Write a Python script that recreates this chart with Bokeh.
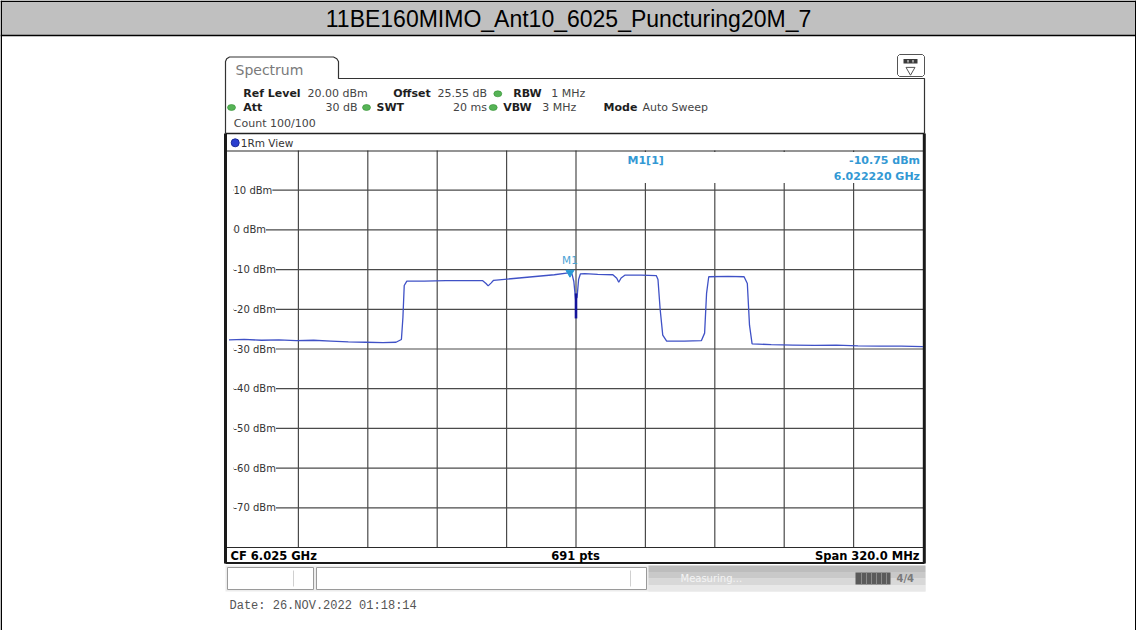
from bokeh.plotting import figure
from bokeh.models import Range1d, ColumnDataSource, LabelSet
from bokeh.core.properties import value
from bokeh.embed import file_html
from bokeh.resources import INLINE

# ---------------- data ----------------
TITLE = "11BE160MIMO_Ant10_6025_Puncturing20M_7"
F_START, F_END = 5.865, 6.185          # GHz (CF 6.025, span 320 MHz)
REF_TOP, REF_BOT = 20.0, -80.0         # dBm
N_POINTS = 691

trace_freq_ghz = [
    5.8650, 5.8720, 5.8800, 5.8880, 5.8960, 5.9040, 5.9120, 5.9200, 5.9280, 5.9360,
    5.9420, 5.9445, 5.9452, 5.9458, 5.9470, 5.9550, 5.9650, 5.9750, 5.9820, 5.9835,
    5.9845, 5.9858, 5.9870, 5.9950, 6.0050, 6.0150, 6.0215, 6.0232, 6.0240, 6.0248,
    6.0255, 6.0262, 6.0270, 6.0290, 6.0350, 6.0420, 6.0438, 6.0447, 6.0458, 6.0475,
    6.0550, 6.0620, 6.0628, 6.0638, 6.0650, 6.0668, 6.0750, 6.0828, 6.0843, 6.0852,
    6.0862, 6.0950, 6.1025, 6.1040, 6.1050, 6.1062, 6.1150, 6.1250, 6.1350, 6.1450,
    6.1550, 6.1650, 6.1750, 6.1850]
trace_level_dbm = [
    -27.7, -27.6, -27.8, -27.7, -27.9, -27.8, -28.0, -28.2, -28.3, -28.4,
    -28.3, -27.6, -22.0, -14.0, -12.9, -12.9, -12.8, -12.8, -12.8, -13.5,
    -14.1, -13.4, -12.7, -12.3, -11.8, -11.3, -10.8, -11.2, -13.0, -17.5,
    -17.0, -12.5, -11.1, -11.0, -11.2, -11.3, -12.2, -13.2, -12.1, -11.4,
    -11.4, -11.5, -12.5, -20.0, -26.5, -28.0, -28.0, -27.9, -26.0, -16.0,
    -11.8, -11.7, -11.8, -13.5, -24.0, -28.7, -28.9, -29.0, -29.1, -29.0,
    -29.2, -29.3, -29.3, -29.4]

dip_freq_ghz = [6.0250, 6.0250]
dip_level_dbm = [-16.0, -22.3]

marker_freq_ghz = 6.022220
marker_level_dbm = -10.75

y_ticks_dbm = [10, 0, -10, -20, -30, -40, -50, -60, -70]
y_tick_labels = ["10 dBm", "0 dBm", "-10 dBm", "-20 dBm", "-30 dBm",
                 "-40 dBm", "-50 dBm", "-60 dBm", "-70 dBm"]
x_grid_ghz = [5.897, 5.929, 5.961, 5.993, 6.025, 6.057, 6.089, 6.121, 6.153]

# ---------------- layout (reference pixel positions) ----------------
W, H = 1136, 630
OX, OY = 0, 0
FL, FR, FT, FB = 228.5, 922.5, 150.0, 547.0   # spectrum frame in reference px


def X(rx):
    return rx - OX


def Y(ry):
    return ry - OY


pxf = (FR - FL) / (F_END - F_START)
pxd = (FB - FT) / (REF_TOP - REF_BOT)
f_lo = F_START - (FL - OX) / pxf
f_hi = F_END + (OX + W - FR) / pxf
d_hi = REF_TOP + (FT - OY) / pxd
d_lo = REF_BOT - (OY + H - FB) / pxd

p = figure(width=W, height=H, x_range=Range1d(0, W), y_range=Range1d(H, 0),
           x_axis_type=None, y_axis_type=None, toolbar_location=None,
           output_backend="svg", min_border=0, outline_line_color=None,
           background_fill_color="white", border_fill_color="white")
p.extra_x_ranges = {"f": Range1d(f_lo, f_hi)}
p.extra_y_ranges = {"db": Range1d(d_lo, d_hi)}

SANS = value("DejaVu Sans")


def txt(items, size, bold=False, color="#222222", align="left",
        font="DejaVu Sans", baseline="middle"):
    p.text(x=[X(a) for _, a, _ in items], y=[Y(b) for _, _, b in items],
           text=[t for t, _, _ in items], text_font=value(font),
           text_font_size=value(size),
           text_font_style="bold" if bold else "normal",
           text_color=color, text_align=align, text_baseline=baseline)


# ---------------- title bar + outer table border ----------------
p.quad(left=[X(1)], right=[X(1135)], top=[Y(1)], bottom=[Y(35)],
       fill_color="#c0c0c0", line_color=None)
p.segment(x0=[X(0), X(0)], x1=[X(1136), X(1136)], y0=[Y(0.75), Y(35)], y1=[Y(0.75), Y(35)],
          line_color="black", line_width=1.5)
p.segment(x0=[X(0.75), X(1135.25)], x1=[X(0.75), X(1135.25)], y0=[Y(0)] * 2, y1=[Y(630)] * 2,
          line_color="black", line_width=1.5)
txt([(TITLE, 568, 18)], "23px", color="black", align="center", font="Liberation Sans")

# ---------------- analyzer window chrome ----------------
p.line(x=[X(v) for v in [225, 225, 226.2, 229, 333, 336.3, 338, 338, 924, 924]],
       y=[Y(v) for v in [133, 61, 58.2, 56.5, 56.5, 58.2, 61, 78, 78, 133]],
       line_color="#333333", line_width=1.2)
txt([("Spectrum", 235, 69)], "14px", color="#7a7a7a")

# top-right icon
p.line(x=[X(v) for v in [897, 897, 899, 922, 924, 924, 922, 899, 897]],
       y=[Y(v) for v in [74, 56, 54, 54, 56, 74, 76, 76, 74]],
       line_color="#555555", line_width=1)
p.quad(left=[X(903)], right=[X(917)], top=[Y(58.5)], bottom=[Y(63)],
       fill_color="#3a3a3a", line_color=None)
p.segment(x0=[X(907.5), X(912.5)], x1=[X(907.5), X(912.5)],
          y0=[Y(59.5)] * 2, y1=[Y(62)] * 2, line_color="white", line_width=1)
p.scatter(x=[X(910)], y=[Y(69.5)], marker="inverted_triangle", size=9,
          fill_color="white", line_color="#555555", line_width=1)

# header rows
txt([("Ref Level", 242.7, 93), ("Offset", 392.7, 93), ("RBW", 512.7, 93),
     ("Att", 242.7, 107), ("SWT", 376, 107), ("VBW", 502.7, 107), ("Mode", 603, 107)],
    "11px", bold=True, color="#1e1e1e")
txt([("20.00 dBm", 307, 93), ("25.55 dB", 437, 93), ("1 MHz", 550.7, 93),
     ("3 MHz", 541.7, 107), ("Auto Sweep", 642, 107), ("Count 100/100", 233.3, 123)],
    "11px", color="#444444")
txt([("30 dB", 357, 107), ("20 ms", 486.5, 107)], "11px", color="#444444", align="right")
p.ellipse(x=[X(497.3), X(231), X(366), X(492.7)], y=[Y(93.3), Y(107), Y(107), Y(107)],
          width=8, height=6, fill_color="#56b356", line_color="#2f8f2f", line_width=0.6)

# 1Rm View bar
p.segment(x0=[X(225)], x1=[X(924)], y0=[Y(133)], y1=[Y(133)], line_color="#222222", line_width=1.5)
p.circle(x=[X(234.7)], y=[Y(142.3)], radius=4, fill_color="#2a3fd0", line_color="#1a2a9a")
txt([("1Rm View", 240.3, 142)], "10.5px", color="#333333")

# ---------------- grid ----------------
p.segment(x0=x_grid_ghz, x1=x_grid_ghz, y0=[REF_BOT] * len(x_grid_ghz),
          y1=[REF_TOP] * len(x_grid_ghz), x_range_name="f", y_range_name="db",
          line_color="#4a4a4a", line_width=1.2)
p.segment(x0=[F_START] * len(y_ticks_dbm), x1=[F_END] * len(y_ticks_dbm),
          y0=y_ticks_dbm, y1=y_ticks_dbm, x_range_name="f", y_range_name="db",
          line_color="#4a4a4a", line_width=1.2)
p.quad(left=[X(FL)], right=[X(232.8)], top=[Y(151)], bottom=[Y(546)],
       fill_color="white", line_color=None)
p.quad(left=[X(598)], right=[X(921.5)], top=[Y(151.5)], bottom=[Y(182.5)],
       fill_color="white", line_color=None)

# frame lines
p.segment(x0=[X(226), X(226)], x1=[X(923), X(923)], y0=[Y(150.5), Y(547)],
          y1=[Y(150.5), Y(547)], line_color="#2a2a2a", line_width=1.2)
p.segment(x0=[X(225), X(923.8)], x1=[X(225), X(923.8)], y0=[Y(133), Y(133)],
          y1=[Y(563), Y(563)], line_color="#1a1a1a", line_width=3)
p.segment(x0=[X(225)], x1=[X(924)], y0=[Y(562.5)], y1=[Y(562.5)],
          line_color="#1a1a1a", line_width=2)

# ---------------- trace ----------------
p.line(x=trace_freq_ghz, y=trace_level_dbm, x_range_name="f", y_range_name="db",
       line_color="#3f51c6", line_width=1.3)
p.line(x=dip_freq_ghz, y=dip_level_dbm, x_range_name="f", y_range_name="db",
       line_color="#14149a", line_width=2.6)

# marker
p.scatter(x=[marker_freq_ghz], y=[marker_level_dbm], x_range_name="f", y_range_name="db",
          marker="inverted_triangle", size=8, fill_color="#2a9ad6", line_color="#2a9ad6")
p.text(x=[marker_freq_ghz], y=[marker_level_dbm], text=["M1"], x_range_name="f",
       y_range_name="db", y_offset=-13, text_align="center", text_baseline="middle",
       text_font=SANS, text_font_size=value("10.5px"), text_color="#4aa3d6")

# y tick labels
lab_src = ColumnDataSource(dict(f=[F_START] * len(y_ticks_dbm), db=y_ticks_dbm,
                                text=y_tick_labels))
p.add_layout(LabelSet(x="f", y="db", text="text", source=lab_src, x_range_name="f",
                      y_range_name="db", x_offset=4.5, text_align="left",
                      text_baseline="middle", text_font=SANS,
                      text_font_size=value("10px"), text_color="#333333",
                      background_fill_color="white"))

# marker readout
BLUE = "#3399d4"
txt([("M1[1]", 627, 160)], "11px", bold=True, color=BLUE)
txt([(f"{marker_level_dbm:.2f} dBm", 919.5, 160),
     (f"{marker_freq_ghz:.6f} GHz", 919.5, 176)], "11px", bold=True, color=BLUE, align="right")

# bottom info bar
cf = (F_START + F_END) / 2
span_mhz = (F_END - F_START) * 1000
txt([(f"CF {cf:.3f} GHz", 230, 555)], "11.5px", bold=True, color="black")
txt([(f"{N_POINTS} pts", 575, 555)], "11.5px", bold=True, color="black", align="center")
txt([(f"Span {span_mhz:.1f} MHz", 919, 555)], "11.5px", bold=True, color="black", align="right")

# status bar
p.quad(left=[X(225)], right=[X(925)], top=[Y(565)], bottom=[Y(591)],
       fill_color="#ececec", line_color=None)
p.quad(left=[X(648)] * 4, right=[X(925)] * 4,
       top=[Y(565), Y(571.5), Y(578), Y(584.5)], bottom=[Y(571.5), Y(578), Y(584.5), Y(591)],
       fill_color=["#bdbdbd", "#c9c9c9", "#d8d8d8", "#e8e8e8"], line_color=None)
p.quad(left=[X(227), X(316)], right=[X(313), X(646)], top=[Y(567)] * 2, bottom=[Y(589)] * 2,
       fill_color="white", line_color="#9a9a9a", line_width=1)
p.segment(x0=[X(293), X(630)], x1=[X(293), X(630)], y0=[Y(570)] * 2, y1=[Y(586)] * 2,
          line_color="#d0d0d0", line_width=1)
txt([("Measuring...", 680, 578)], "10px", color="#f4f4f4")
p.quad(left=[X(855)], right=[X(890)], top=[Y(572)], bottom=[Y(584)],
       fill_color="#5a5a5a", line_color=None)
p.segment(x0=[X(861), X(866), X(871), X(876), X(881), X(886)],
          x1=[X(861), X(866), X(871), X(876), X(881), X(886)],
          y0=[Y(572)] * 6, y1=[Y(584)] * 6, line_color="#8a8a8a", line_width=1)
txt([("4/4", 896, 578)], "10px", bold=True, color="#7a7a7a")

# date
txt([("Date: 26.NOV.2022  01:18:14", 229, 605)], "12px", color="#555555",
    font="Liberation Mono")

open("out.html", "w").write(file_html(p, INLINE, title=TITLE))
